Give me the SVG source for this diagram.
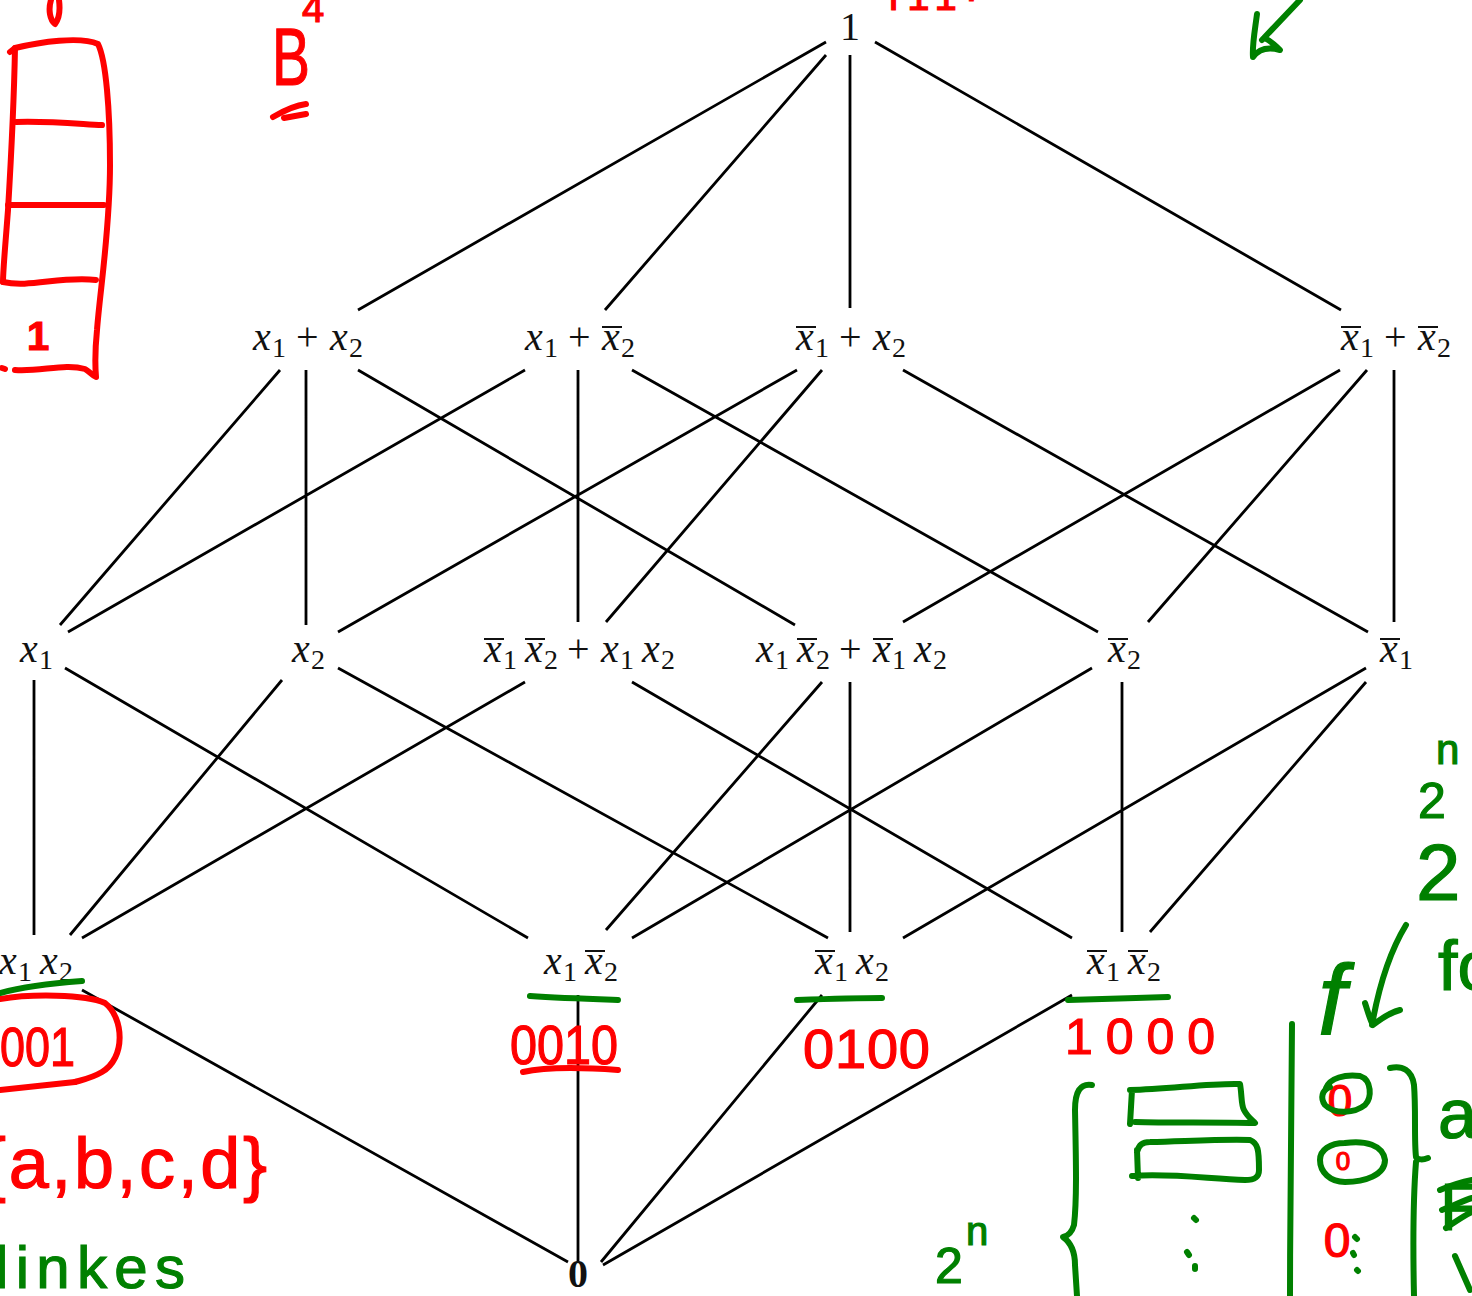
<svg xmlns="http://www.w3.org/2000/svg" width="1472" height="1296" viewBox="0 0 1472 1296">
<style>
.e{stroke:#000;stroke-width:2.8;fill:none}
.m{font-family:"Liberation Serif",serif;font-size:40px;fill:#111}
.v{font-style:italic}
.s{font-size:28px}
.ob{stroke:#111;stroke-width:2}
.r{stroke:#f00;stroke-width:6;fill:none;stroke-linecap:round;stroke-linejoin:round}
.g{stroke:#008000;stroke-width:6;fill:none;stroke-linecap:round;stroke-linejoin:round}
.rt{font-family:"Liberation Sans",sans-serif;fill:#f00;stroke:#f00;stroke-width:1.2}
.gt{font-family:"Liberation Sans",sans-serif;fill:#008000;stroke:#008000;stroke-width:1.2}
</style>
<rect width="1472" height="1296" fill="#fff"/>
<g id="connectors">
<path class="e" d="M826,42L358,310M826,55L605,310M850,55L850,308M875,42L1341,310"/>
<path class="e" d="M280,370L60,625M306,370L306,625M358,370L795,625M525,370L68,632M578,370L578,622M632,370L1098,632M797,370L338,632M822,370L606,622M903,370L1368,632M1340,370L903,622M1367,370L1148,622M1394,370L1394,622"/>
<path class="e" d="M34,680L34,935M65,668L528,938M282,680L70,935M338,668L828,938M525,682L82,938M632,682L1072,938M822,682L606,930M850,682L850,932M1092,668L632,938M1122,682L1122,932M1366,668L903,938M1366,682L1150,932"/>
<path class="e" d="M82,990L568,1262M578,995L578,1262M822,995L601,1262M1072,995L603,1265"/>
</g>
<g id="n-one"><text class="m" x="850" y="40" text-anchor="middle">1</text></g>
<g id="n-x1px2"><text class="m"><tspan class="v" x="253" y="350">x</tspan><tspan class="s" x="272" y="357">1</tspan><tspan x="296" y="350">+</tspan><tspan class="v" x="330" y="350">x</tspan><tspan class="s" x="349" y="357">2</tspan></text></g>
<g id="n-x1pnx2"><text class="m"><tspan class="v" x="525" y="350">x</tspan><tspan class="s" x="544" y="357">1</tspan><tspan x="568" y="350">+</tspan><tspan class="v" x="602" y="350">x</tspan><tspan class="s" x="621" y="357">2</tspan></text><line class="ob" x1="602" y1="327" x2="622" y2="327"/></g>
<g id="n-nx1px2"><text class="m"><tspan class="v" x="796" y="350">x</tspan><tspan class="s" x="815" y="357">1</tspan><tspan x="839" y="350">+</tspan><tspan class="v" x="873" y="350">x</tspan><tspan class="s" x="892" y="357">2</tspan></text><line class="ob" x1="796" y1="327" x2="816" y2="327"/></g>
<g id="n-nx1pnx2"><text class="m"><tspan class="v" x="1341" y="350">x</tspan><tspan class="s" x="1360" y="357">1</tspan><tspan x="1384" y="350">+</tspan><tspan class="v" x="1418" y="350">x</tspan><tspan class="s" x="1437" y="357">2</tspan></text><line class="ob" x1="1341" y1="327" x2="1361" y2="327"/><line class="ob" x1="1418" y1="327" x2="1438" y2="327"/></g>
<g id="n-x1"><text class="m"><tspan class="v" x="20" y="662">x</tspan><tspan class="s" x="39" y="669">1</tspan></text></g>
<g id="n-x2"><text class="m"><tspan class="v" x="292" y="662">x</tspan><tspan class="s" x="311" y="669">2</tspan></text></g>
<g id="n-eq"><text class="m"><tspan class="v" x="484" y="662">x</tspan><tspan class="s" x="503" y="669">1</tspan><tspan class="v" x="525" y="662">x</tspan><tspan class="s" x="544" y="669">2</tspan><tspan x="567" y="662">+</tspan><tspan class="v" x="601" y="662">x</tspan><tspan class="s" x="620" y="669">1</tspan><tspan class="v" x="642" y="662">x</tspan><tspan class="s" x="661" y="669">2</tspan></text><line class="ob" x1="484" y1="639" x2="504" y2="639"/><line class="ob" x1="525" y1="639" x2="545" y2="639"/></g>
<g id="n-xor"><text class="m"><tspan class="v" x="756" y="662">x</tspan><tspan class="s" x="775" y="669">1</tspan><tspan class="v" x="797" y="662">x</tspan><tspan class="s" x="816" y="669">2</tspan><tspan x="839" y="662">+</tspan><tspan class="v" x="873" y="662">x</tspan><tspan class="s" x="892" y="669">1</tspan><tspan class="v" x="914" y="662">x</tspan><tspan class="s" x="933" y="669">2</tspan></text><line class="ob" x1="797" y1="639" x2="817" y2="639"/><line class="ob" x1="873" y1="639" x2="893" y2="639"/></g>
<g id="n-nx2"><text class="m"><tspan class="v" x="1108" y="662">x</tspan><tspan class="s" x="1127" y="669">2</tspan></text><line class="ob" x1="1108" y1="639" x2="1128" y2="639"/></g>
<g id="n-nx1"><text class="m"><tspan class="v" x="1380" y="662">x</tspan><tspan class="s" x="1399" y="669">1</tspan></text><line class="ob" x1="1380" y1="639" x2="1400" y2="639"/></g>
<g id="n-x1x2"><text class="m"><tspan class="v" x="-1" y="974">x</tspan><tspan class="s" x="18" y="981">1</tspan><tspan class="v" x="40" y="974">x</tspan><tspan class="s" x="59" y="981">2</tspan></text></g>
<g id="n-x1nx2"><text class="m"><tspan class="v" x="544" y="974">x</tspan><tspan class="s" x="563" y="981">1</tspan><tspan class="v" x="585" y="974">x</tspan><tspan class="s" x="604" y="981">2</tspan></text><line class="ob" x1="585" y1="951" x2="605" y2="951"/></g>
<g id="n-nx1x2"><text class="m"><tspan class="v" x="815" y="974">x</tspan><tspan class="s" x="834" y="981">1</tspan><tspan class="v" x="856" y="974">x</tspan><tspan class="s" x="875" y="981">2</tspan></text><line class="ob" x1="815" y1="951" x2="835" y2="951"/></g>
<g id="n-nx1nx2"><text class="m"><tspan class="v" x="1087" y="974">x</tspan><tspan class="s" x="1106" y="981">1</tspan><tspan class="v" x="1128" y="974">x</tspan><tspan class="s" x="1147" y="981">2</tspan></text><line class="ob" x1="1087" y1="951" x2="1107" y2="951"/><line class="ob" x1="1128" y1="951" x2="1148" y2="951"/></g>
<g id="n-zero"><text class="m" x="578" y="1287" text-anchor="middle" font-weight="bold">0</text></g>
<g id="red-notes">
<path class="r" d="M51,0C48,10 50,20 55,24C60,18 60,8 59,0"/>
<path class="r" d="M10,52L15,48C40,42 80,36 98,44C106,60 110,110 110,165C110,230 100,290 97,330C95,350 95,365 96,377C93,376 90,372 85,369C65,363 40,372 15,370"/>
<path class="r" d="M15,48C14,100 11,160 8,210C5,250 3,270 3,282"/>
<path class="r" d="M16,122C50,121 80,124 102,125M8,205L104,205M3,282C30,288 60,276 96,280M2,368L5,369"/>
<text class="rt" x="38" y="350" text-anchor="middle" font-size="40" font-weight="bold">1</text>
<text class="rt" x="272" y="85" font-size="82" textLength="38" lengthAdjust="spacingAndGlyphs">B</text>
<text class="rt" x="302" y="22" font-size="40">4</text>
<path class="r" d="M273,117C285,110 298,105 306,104M284,118L306,114"/>
<text class="rt" x="888" y="10" font-size="40" textLength="90">I11·</text>
<path class="r" d="M0,999C30,994 85,994 105,1003C124,1018 126,1058 102,1072C92,1078 82,1080 75,1082"/>
<path class="r" d="M0,1090L75,1082" stroke-width="13"/>
<text class="rt" x="-25" y="1066" font-size="56" textLength="100" lengthAdjust="spacingAndGlyphs">0001</text>
<text class="rt" x="-18" y="1188" font-size="72" textLength="285">{a,b,c,d}</text>
<text class="rt" x="510" y="1064" font-size="56" textLength="108" lengthAdjust="spacingAndGlyphs">0010</text>
<path class="r" d="M523,1072C550,1066 590,1068 618,1070"/>
<text class="rt" x="803" y="1068" font-size="56" textLength="127">0100</text>
<text class="rt" x="1065" y="1054" font-size="50" textLength="150">1000</text>
<text class="rt" x="1340" y="1116" text-anchor="middle" font-size="44">0</text>
<text class="rt" x="1343" y="1170" text-anchor="middle" font-size="26">0</text>
<text class="rt" x="1337" y="1257" text-anchor="middle" font-size="48">0</text>
</g>
<g id="green-notes">
<path class="g" d="M1300,0L1262,40M1257,14C1255,30 1252,45 1253,57C1258,50 1266,46 1280,50C1275,45 1270,40 1264,38"/>
<path class="g" d="M0,993C25,986 55,983 82,981"/>
<path class="g" d="M530,996C560,998 590,999 618,1000M797,1000C825,999 855,998 882,998M1068,1000C1100,999 1135,998 1168,997"/>
<text class="gt" x="-5" y="1288" font-size="60" textLength="190">linkes</text>
<text class="gt" x="935" y="1283" font-size="50">2</text>
<text class="gt" x="966" y="1245" font-size="40">n</text>
<path class="g" d="M1092,1085C1080,1083 1075,1092 1075,1110C1076,1160 1077,1200 1074,1225C1072,1232 1068,1236 1063,1237C1070,1242 1075,1250 1075,1265L1077,1296"/>
<path class="g" d="M1130,1090C1170,1089 1210,1083 1240,1084C1242,1095 1241,1105 1244,1110C1247,1116 1252,1120 1255,1123C1215,1122 1170,1123 1135,1122M1132,1090L1130,1124"/>
<path class="g" d="M1137,1152C1139,1145 1142,1142 1150,1142C1190,1141 1225,1139 1250,1140C1258,1143 1259,1150 1259,1170C1259,1178 1254,1180 1245,1180C1210,1179 1170,1173 1132,1176M1137,1150L1138,1178"/>
<path class="g" d="M1194,1218L1196,1220M1187,1252L1189,1255M1195,1266L1195,1269"/>
<path class="g" d="M1292,1024C1292,1100 1290,1200 1290,1296"/>
<text class="gt" x="1318" y="1035" font-size="100" font-family="Liberation Serif" font-style="italic">f</text>
<path class="g" d="M1406,925C1392,948 1380,980 1372,1025M1365,1003C1368,1012 1370,1020 1373,1025C1382,1018 1392,1012 1400,1010"/>
<path class="g" d="M1326,1088C1330,1078 1345,1074 1360,1076C1372,1080 1372,1098 1365,1105C1355,1113 1335,1115 1325,1105C1320,1098 1322,1090 1330,1087"/>
<path class="g" d="M1345,1143C1365,1140 1383,1145 1385,1160C1385,1175 1365,1182 1345,1182C1330,1182 1320,1172 1320,1160C1320,1150 1330,1143 1345,1143"/>
<path class="g" d="M1355,1237L1357,1239M1353,1253L1354,1255M1357,1270L1358,1271"/>
<path class="g" d="M1390,1068C1402,1065 1412,1070 1414,1085C1416,1110 1414,1140 1416,1157C1418,1160 1423,1160 1428,1158M1416,1162C1413,1200 1413,1250 1414,1296"/>
<text class="gt" x="1418" y="818" font-size="50">2</text>
<text class="gt" x="1436" y="764" font-size="42">n</text>
<text class="gt" x="1416" y="900" font-size="80">2</text>
<text class="gt" x="1438" y="990" font-size="70">fo</text>
<text class="gt" x="1438" y="1138" font-size="70">al</text>
<text class="gt" x="1440" y="1230" font-size="66">F</text>
<path class="g" d="M1440,1190C1452,1185 1462,1182 1472,1180M1442,1210C1455,1205 1465,1200 1472,1198M1446,1228C1458,1220 1465,1215 1472,1212"/>
<path class="g" d="M1455,1256L1470,1290"/>
</g>
</svg>
